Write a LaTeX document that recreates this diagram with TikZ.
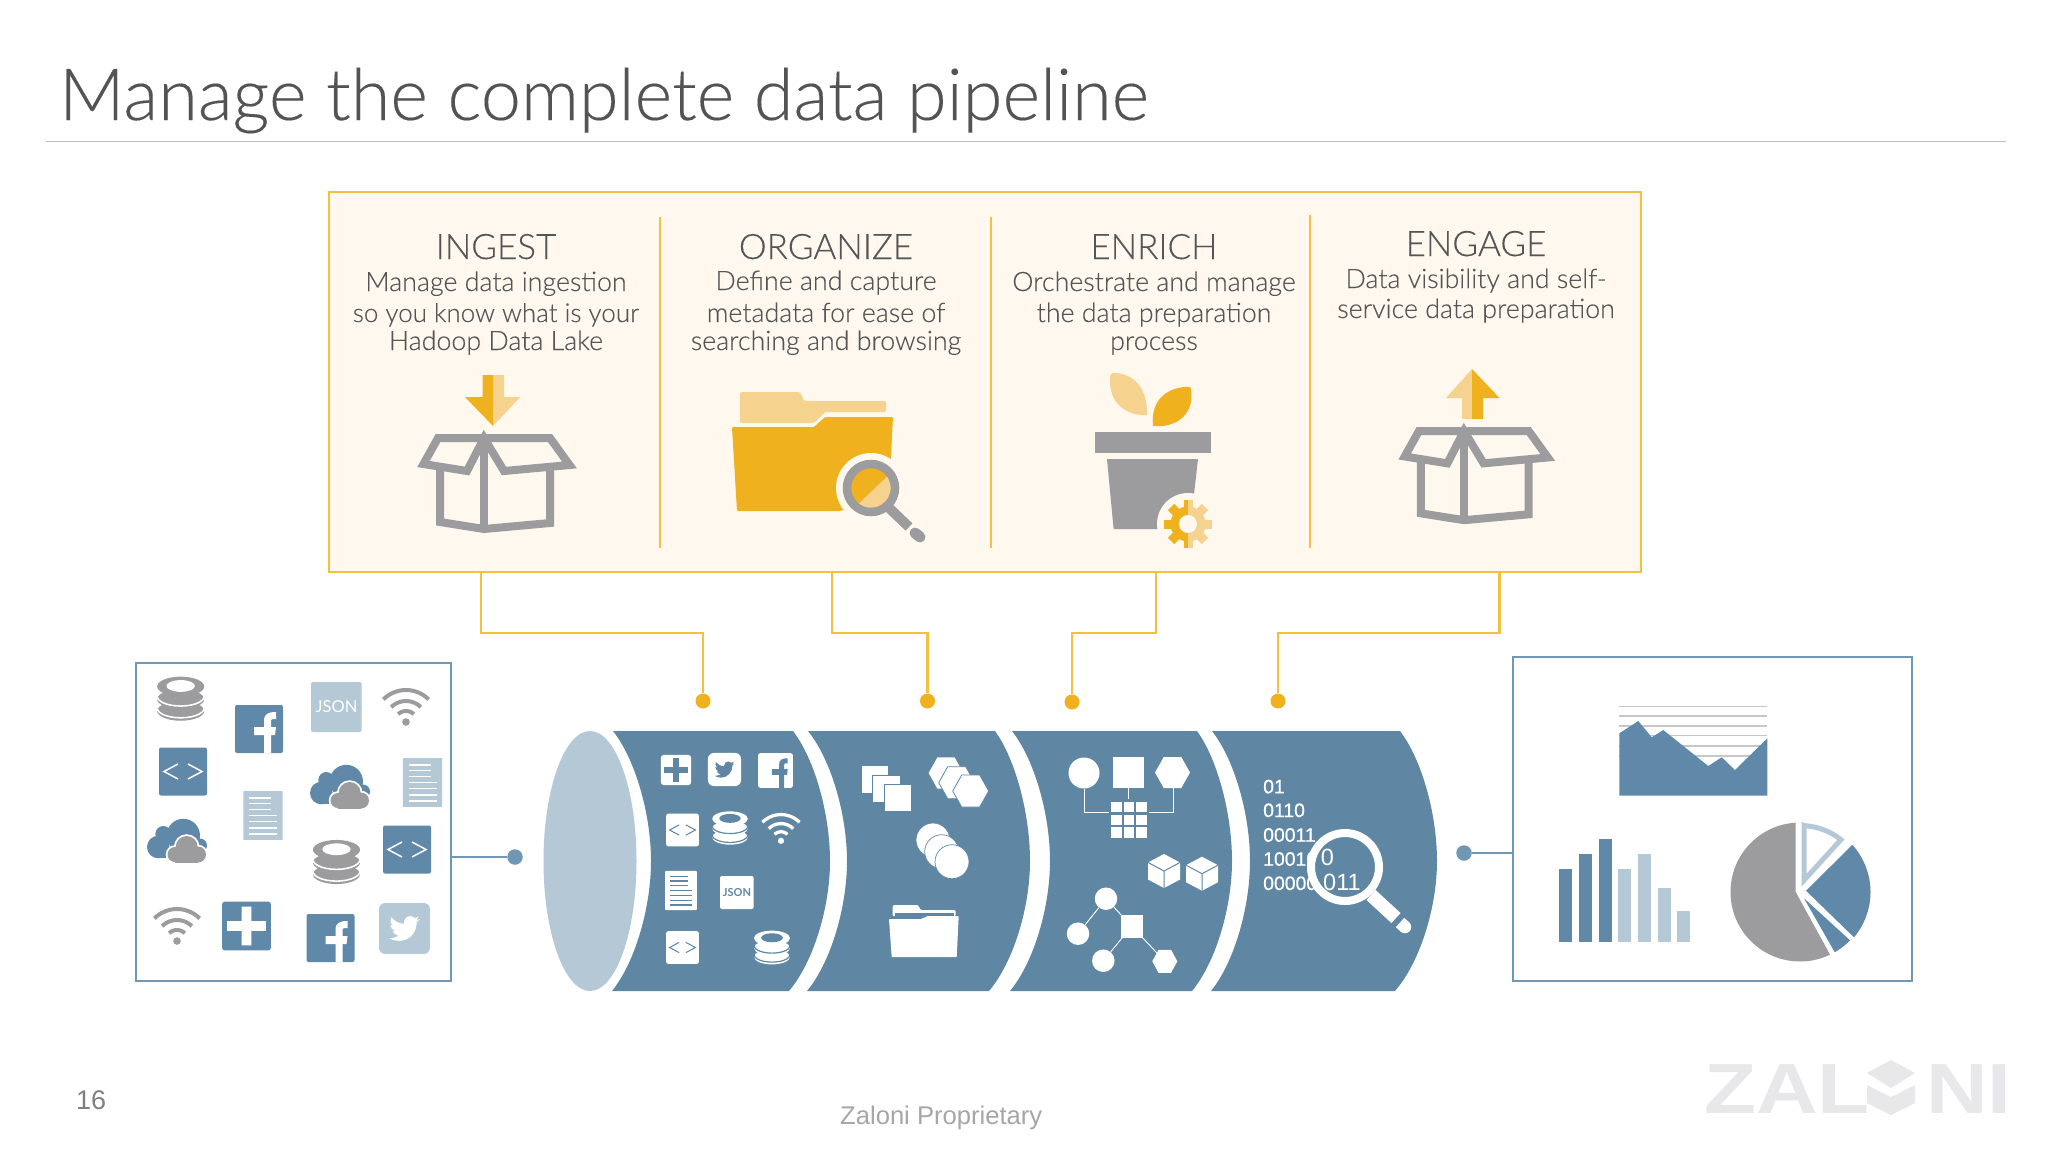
\documentclass[tikz,border=0pt]{standalone}
\usepackage{fontspec}
\setmainfont{Lato}
\newfontfamily\lt[FakeBold=0.2]{Lato Light}
\newfontfamily\lr{Lato}
\newfontfamily\lib{Liberation Sans}
\newfontfamily\libm[FakeBold=0.6]{Liberation Sans}
\newfontfamily\zal[FakeStretch=1.2]{Liberation Sans}
\definecolor{pipe}{HTML}{5F87A3}
\definecolor{bluei}{HTML}{6088A8}
\definecolor{lightb}{HTML}{B4C8D6}
\definecolor{boxc}{HTML}{7098B5}
\definecolor{gr}{HTML}{9C9C9E}
\definecolor{yd}{HTML}{EFB11D}
\definecolor{yl}{HTML}{F5D28D}
\definecolor{yline}{HTML}{F3C13F}
\definecolor{pan}{HTML}{FEF8EE}
\definecolor{txt}{HTML}{555557}
\definecolor{titlec}{HTML}{535356}
\tikzset{
 lab/.style={anchor=base,inner sep=0pt,text=txt,font=\lt\fontsize{26.8}{27}\selectfont},
 labn/.style={anchor=base,inner sep=0pt,text=txt,font=\lt\fontsize{26}{27}\selectfont},
 head/.style={anchor=base,inner sep=0pt,text=txt,font=\lt\fontsize{35}{35}\selectfont},
 ydot/.style={circle,fill=yd,inner sep=0pt,minimum size=15pt},
 bdot/.style={circle,fill=boxc,inner sep=0pt,minimum size=15.5pt},
 yconn/.style={draw=yline,line width=2.2pt},
 bconn/.style={draw=boxc,line width=2.2pt},
 bin/.style={anchor=base west,inner sep=0pt,text=white,font=\libm\fontsize{19.4}{19.4}\selectfont},
 bigbin/.style={anchor=base west,inner sep=0pt,text=white,font=\lib\fontsize{23.5}{23.5}\selectfont},
 boxl/.style={draw=gr,line width=8pt,miter limit=4,fill=none},
}
\newcommand\pipeseg[6]{\fill[pipe] (#1,731) .. controls ({#1+.6*(#2-#1)},760) and (#2,815) .. (#2,861) .. controls (#2,907) and ({#3+.6*(#2-#3)},962) .. (#3,991) -- (#6,991) .. controls ({#6+.6*(#5-#6)},962) and (#5,907) .. (#5,861) .. controls (#5,815) and ({#4+.6*(#5-#4)},760) .. (#4,731) -- cycle;}
\newcommand\boxicon[3]{\begin{scope}[shift={(#1,#2)},scale=#3]
 \draw[boxl] (-44,26)--(-44,84)--(0,91)--(66,85)--(66,26);
 \draw[boxl] (0,0)--(0,91);
 \draw[boxl] (-46,0)--(-60.5,26)--(-17,33)--(0,0)--(20,33)--(85.5,27)--(66,0)--cycle;
\end{scope}}
\newcommand\fbicon[5]{\begin{scope}[shift={(#1,#2)},scale=#3]
 \fill[#4,rounded corners=2pt] (-24,-24) rectangle (24,24);
 \fill[#5] (5,24)--(5,6)--(-5,6)--(-5,-2)--(5,-2)--(5,-8) .. controls (5,-15) and (9,-17) .. (17,-17)--(17,-10)--(14,-10) .. controls (12,-10) and (12,-9) .. (12,-7)--(12,-2)--(17,-2)--(16,6)--(12,6)--(12,24)--cycle;
\end{scope}}
\newcommand\codeicon[5]{\begin{scope}[shift={(#1,#2)},scale=#3]
 \fill[#4,rounded corners=2pt] (-24,-24) rectangle (24,24);
 \draw[#5,line width={1.5pt*#3}] (-5,-7.5)--(-19,0)--(-5,7.5) (5,-7.5)--(19,0)--(5,7.5);
\end{scope}}
\newcommand\plusicon[5]{\begin{scope}[shift={(#1,#2)},scale=#3]
 \fill[#4,rounded corners=3pt] (-24,-24) rectangle (24,24);
 \fill[#5] (-4.7,-19) rectangle (4.7,19) (-19,-4.7) rectangle (19,4.7);
\end{scope}}
\newcommand\dbicon[5]{\begin{scope}[shift={(#1,#2)},scale=#3]
 \foreach \yy in {12.5,0.5} {\fill[#4] (0,\yy) ellipse [x radius=24,y radius=10];
   \draw[#5,line width={1.6pt*#3}] plot[domain=180:360,samples=15] ({24*cos(\x)},{\yy-3+10*sin(-\x)});}
 \fill[#4] (0,-12.5) ellipse [x radius=24,y radius=10];
 \fill[#5] (0,-13) ellipse [x radius=14.5,y radius=6];
\end{scope}}
\newcommand\wifiicon[4]{\begin{scope}[shift={(#1,#2)},scale=#3]
 \fill[#4] (0,15) circle [radius=3.8];
 \foreach \rr in {32,21,11} {\draw[#4,line width={4pt*#3}] plot[domain=-135:-45,samples=15] ({\rr*cos(\x)},{15+\rr*sin(\x)});}
\end{scope}}
\newcommand\docicon[5]{\begin{scope}[shift={(#1,#2)},scale=#3]
 \fill[#4,rounded corners=.6pt] (-19.7,-24.4) rectangle (19.7,24.4);
 \draw[#5,line width={1.7pt*#3}] (-13.7,-17.7)--(8.3,-17.7) (-13.7,-12)--(8.3,-12) (-13.7,-6)--(8.3,-6) (-13.7,0)--(14.3,0) (-13.7,6)--(14.3,6) (-13.7,12.3)--(14.3,12.3) (-13.7,18.3)--(14.3,18.3);
\end{scope}}
\newcommand\cloudicon[2]{\begin{scope}[shift={(#1,#2)}]
 \fill[bluei] (6.3,-5.5) circle [radius=16.7];
 \fill[bluei] (-13.7,-7) circle [radius=8];
 \fill[bluei] (-18.7,6) circle [radius=11.3];
 \fill[bluei] (23,4.5) circle [radius=7];
 \fill[bluei] (-18.7,7) rectangle (23,17.3);
 \foreach \px/\py/\pr in {9.7/6/11,-2/13.5/7.5,21/13.5/8} {\filldraw[white,line width=3.5pt] (\px,\py) circle [radius=\pr];}
 \filldraw[white,line width=3.5pt] (-2,10) rectangle (21,21.5);
 \foreach \px/\py/\pr in {9.7/6/11,-2/13.5/7.5,21/13.5/8} {\fill[gr] (\px,\py) circle [radius=\pr];}
 \fill[gr] (-2,10) rectangle (21,21.5);
\end{scope}}
\newcommand\birdicon[5]{\begin{scope}[shift={(#1,#2)},scale=#3]
 \fill[#4,rounded corners=6pt] (-24,-24) rectangle (24,24);
 \begin{scope}[shift={(-14.4,-14.4)},scale=1.2]
 \fill[#5] (23.954,4.569) .. controls (23.069,4.958) and (22.124,5.223) .. (21.129,5.344) .. controls (22.143,4.733) and (22.923,3.77) .. (23.292,2.621) .. controls (22.341,3.176) and (21.287,3.58) .. (20.165,3.805) .. controls (19.269,2.846) and (17.992,2.246) .. (16.574,2.246) .. controls (13.857,2.246) and (11.654,4.449) .. (11.654,7.163) .. controls (11.654,7.553) and (11.699,7.928) .. (11.781,8.287) .. controls (7.691,8.094) and (4.066,6.13) .. (1.64,3.161) .. controls (1.213,3.883) and (.974,4.722) .. (.974,5.636) .. controls (.974,7.346) and (1.844,8.849) .. (3.162,9.732) .. controls (2.355,9.706) and (1.596,9.484) .. (.934,9.116) -- (.934,9.177) .. controls (.934,11.562) and (2.627,13.551) .. (4.88,14.004) .. controls (4.467,14.115) and (4.031,14.175) .. (3.584,14.175) .. controls (3.27,14.175) and (2.969,14.145) .. (2.668,14.089) .. controls (3.299,16.042) and (5.113,17.466) .. (7.272,17.506) .. controls (5.592,18.825) and (3.463,19.611) .. (1.17,19.611) .. controls (.78,19.611) and (.391,19.588) .. (0,19.544) .. controls (2.189,20.938) and (4.768,21.753) .. (7.557,21.753) .. controls (16.611,21.753) and (21.556,14.257) .. (21.556,7.767) .. controls (21.556,7.558) and (21.556,7.347) .. (21.541,7.137) .. controls (22.502,6.448) and (23.341,5.577) .. (24.001,4.589) -- cycle;
 \end{scope}
\end{scope}}
\newcommand\hexa[5][white]{\fill[#1] ({#2-#4/2},#3)--({#2-#4/4},{#3-#5/2})--({#2+#4/4},{#3-#5/2})--({#2+#4/2},#3)--({#2+#4/4},{#3+#5/2})--({#2-#4/4},{#3+#5/2})--cycle;}
\newcommand\hexb[4]{\filldraw[fill=white,draw=pipe,line width=.8pt] ({#1-#3/2},#2)--({#1-#3/4},{#2-#4/2})--({#1+#3/4},{#2-#4/2})--({#1+#3/2},#2)--({#1+#3/4},{#2+#4/2})--({#1-#3/4},{#2+#4/2})--cycle;}
\newcommand\cube[2]{\begin{scope}[shift={(#1,#2)}]
 \fill[white] (0,-17)--(16,-8.5)--(16,8.5)--(0,17)--(-16,8.5)--(-16,-8.5)--cycle;
 \draw[pipe,line width=1pt] (-16,-8.5)--(0,0)--(16,-8.5) (0,0)--(0,17);
\end{scope}}
\newcommand\gearshape[1]{\fill[#1] (0,0) circle [radius=17.5];
 \foreach \a in {0,45,...,315} {\fill[#1,rotate=\a] (-4.5,-24) rectangle (4.5,0);}}
\begin{document}
\begin{tikzpicture}[x=1pt,y=-1pt]
\useasboundingbox (0,0) rectangle (2048,1152);
\fill[white] (0,0) rectangle (2048,1152);
% title
\node[anchor=base west,inner sep=0pt,text=titlec,font=\lt\fontsize{72}{72}\selectfont] (title) at (59,120) {Manage the complete data pipeline};
\coordinate (ruleL) at (46,141.5);
\coordinate (ruleR) at (2006,141.5);
\draw[draw=black!25,line width=1.6pt] (ruleL)--(ruleR);
% panel
\node[draw=yline,fill=pan,line width=2.6pt,minimum width=1312pt,minimum height=380pt,inner sep=0pt] (panel) at (985,382) {};
\foreach \xx/\ya in {660/217,991/217,1310/215} {\draw[yline,line width=1.5pt] (\xx,\ya)--(\xx,548);}
% headers
\node[head] (h1) at (496,259) {INGEST};
\node[lab] (h1a) at (496,291) {Manage data ingestion};
\node[labn] (h1b) at (496,322) {so you know what is your};
\node[lab] (h1c) at (496,350) {Hadoop Data Lake};
\node[head] (h2) at (826,259) {ORGANIZE};
\node[lab] (h2a) at (826,290) {Define and capture};
\node[lab] (h2b) at (826,322) {metadata for ease of};
\node[lab] (h2c) at (826,350) {searching and browsing};
\node[head] (h3) at (1154,259) {ENRICH};
\node[lab] (h3a) at (1154,291) {Orchestrate and manage};
\node[lab] (h3b) at (1154,322) {the data preparation};
\node[lab] (h3c) at (1154,350) {process};
\node[head] (h4) at (1476,256) {ENGAGE};
\node[lab] (h4a) at (1476,288) {Data visibility and self-};
\node[lab] (h4b) at (1476,318) {service data preparation};
% ingest arrow + box
\fill[yd] (482.6,375)--(493,375)--(493,426)--(465,397)--(482.6,397)--cycle;
\fill[yl] (504,375)--(493,375)--(493,426)--(520.3,397)--(504,397)--cycle;
\boxicon{484}{438}{1}
% folder
\fill[yl,rounded corners=1.5pt] (740,423)--(740,392)--(800,392)--(804,401)--(886,401)--(886,412)--(825,412)--(814,423)--cycle;
\fill[yd,rounded corners=1pt] (732,427)--(814,427)--(825,417)--(893,417)--(889,495)--(840,511)--(737,511)--cycle;
\fill[pan] (871,488) circle [radius=35];
\begin{scope}
 \clip (871,488) circle [radius=21];
 \fill[yd] (845,460) rectangle (899,516);
 \fill[yl] (896,468)--(848,514)--(900,520)--cycle;
\end{scope}
\draw[gr,line width=8.5pt] (871,488) circle [radius=24];
\draw[gr,line width=10pt] (887,506)--(909,527);
\draw[gr,line width=11pt,line cap=round] (915,533)--(920,537);
% plant
\fill[yl] (1112,373) .. controls (1130,372) and (1148,385) .. (1147,415) .. controls (1128,416) and (1108,405) .. (1110,376) -- cycle;
\fill[yd] (1190,387) .. controls (1170,386) and (1150,398) .. (1153,426) .. controls (1172,428) and (1195,418) .. (1191,389) -- cycle;
\fill[gr] (1095,432) rectangle (1211,453);
\fill[gr] (1107,459)--(1198,459)--(1192,512)--(1188,529)--(1113.6,529)--cycle;
\fill[pan] (1188,524) circle [radius=31];
\begin{scope}[shift={(1188,524)}]
 \begin{scope}\clip (-30,-30) rectangle (0,30); \gearshape{yd}\end{scope}
 \begin{scope}\clip (0,-30) rectangle (30,30); \gearshape{yl}\end{scope}
 \fill[pan] (0,0) circle [radius=9];
\end{scope}
% engage arrow + box
\fill[yl] (1472,369)--(1446,398)--(1462,398)--(1462,419)--(1472,419)--cycle;
\fill[yd] (1472,369)--(1499.5,398)--(1483,398)--(1483,419)--(1472,419)--cycle;
\boxicon{1464}{431}{.98}
% yellow connectors
\coordinate (yy) at (0,633);
\coordinate (c1) at (481,572);
\coordinate (c2) at (832,572);
\coordinate (c3) at (1156,572);
\coordinate (c4) at (1499.5,572);
\node[ydot] (d1) at (703,701) {};
\node[ydot] (d2) at (927.5,701) {};
\node[ydot] (d3) at (1072,702) {};
\node[ydot] (d4) at (1278,701) {};
\draw[yconn] (c1) |- (d1 |- yy) -- (d1);
\draw[yconn] (c2) |- (d2 |- yy) -- (d2);
\draw[yconn] (c3) |- (d3 |- yy) -- (d3);
\draw[yconn] (c4) |- (d4 |- yy) -- (d4);
% source box
\node[draw=boxc,fill=white,line width=2.4pt,minimum width=315pt,minimum height=318pt,inner sep=0pt] (src) at (293.5,822) {};
\node[bdot] (d5) at (515,857) {};
\draw[bconn] (src.east |- d5) -- (d5);
\dbicon{180.7}{698.7}{.98}{gr}{white}
\fbicon{259}{729}{1}{bluei}{white}
\begin{scope}
 \fill[lightb,rounded corners=2pt] (311,682) rectangle (361.7,732);
 \node[inner sep=0pt,text=white,font=\lr\fontsize{16.5}{16.5}\selectfont] (js1) at (336.5,707) {JSON};
\end{scope}
\wifiicon{406}{707}{1}{gr}
\codeicon{183}{771.5}{1}{bluei}{white}
\cloudicon{340}{787}
\docicon{422.5}{782.5}{1}{lightb}{white}
\docicon{263}{815.5}{1}{lightb}{white}
\cloudicon{177}{841}
\dbicon{336.5}{862}{.98}{gr}{white}
\codeicon{407}{849.5}{1}{bluei}{white}
\wifiicon{177}{926}{1}{gr}
\plusicon{246.5}{926}{1.02}{bluei}{white}
\fbicon{330.5}{938}{1}{bluei}{white}
\birdicon{404.5}{928.5}{1.06}{lightb}{white}
% pipeline
\fill[lightb] (590,861) ellipse [x radius=46.5,y radius=130];
\pipeseg{613}{651}{612}{793}{830}{789}
\pipeseg{808}{847}{807}{995}{1030}{989}
\pipeseg{1012}{1050}{1010}{1197}{1232}{1192}
\pipeseg{1212}{1250}{1211}{1400}{1437}{1395}
% seg 1
\plusicon{676}{770}{.63}{white}{pipe}
\birdicon{724.5}{769.5}{.69}{white}{pipe}
\fbicon{775.5}{770.5}{.72}{white}{pipe}
\codeicon{682.5}{830}{.68}{white}{pipe}
\dbicon{730}{828}{.74}{white}{pipe}
\wifiicon{781}{828.5}{.82}{white}
\docicon{681}{890.5}{.8}{white}{pipe}
\fill[white,rounded corners=2pt] (720,876) rectangle (753.7,909);
\node[inner sep=0pt,text=pipe,font=\lr\bfseries\fontsize{11}{11}\selectfont] (js2) at (737,892.5) {JSON};
\codeicon{682.5}{947.5}{.68}{white}{pipe}
\dbicon{772}{947.5}{.75}{white}{pipe}
% seg 2
\foreach \xa/\ya in {861/765.7,872.7/775,884/784} {\filldraw[fill=white,draw=pipe,line width=.7pt] (\xa,\ya) rectangle ++(27.3,27.5);}
\hexb{946}{773}{36}{32}
\hexb{956.7}{782.7}{36}{32}
\hexb{970.7}{791}{36}{32}
\foreach \xa/\ya in {933/840,941.7/851.7,952/861.7} {\filldraw[fill=white,draw=pipe,line width=.7pt] (\xa,\ya) circle [radius=17];}
\fill[white,rounded corners=1pt] (892.7,916)--(892.7,906)--(894,905)--(918,905)--(920.7,910)--(955.5,910)--(955.5,916)--cycle;
\fill[pipe] (895,912.5) rectangle (953.5,918);
\fill[white,rounded corners=.5pt] (889,919)--(921,919)--(928,916)--(958.7,916)--(956.7,957)--(891.7,957)--cycle;
% seg 3
\node[circle,fill=white,inner sep=0pt,minimum size=31pt] (n1) at (1084,773) {};
\node[fill=white,inner sep=0pt,minimum width=31.5pt,minimum height=31pt] (n2) at (1128.3,772.5) {};
\hexa{1172.5}{772.5}{35}{31}
\coordinate (n3) at (1173.7,788);
\foreach \i in {0,1,2} \foreach \j in {0,1,2} {\fill[white] ({1111+\i*12.6},{802+\j*12.6}) rectangle ++(10.6,10.4);}
\coordinate (g1) at (1109,812);
\coordinate (g2) at (1128.3,799);
\coordinate (g3) at (1149,812);
\draw[white,line width=.9pt] (n1.south) |- (g1);
\draw[white,line width=.9pt] (n2.south) -- (g2);
\draw[white,line width=.9pt] (n3) |- (g3);
\cube{1164}{871}
\cube{1202}{873.7}
\node[circle,fill=white,inner sep=0pt,minimum size=22.5pt] (t1) at (1106,898.7) {};
\node[circle,fill=white,inner sep=0pt,minimum size=22.5pt] (t2) at (1078,933.7) {};
\node[fill=white,inner sep=0pt,minimum size=22.5pt] (t3) at (1131.8,926.3) {};
\node[circle,fill=white,inner sep=0pt,minimum size=22.5pt] (t4) at (1103.3,960.7) {};
\coordinate (t5) at (1164.8,961.3);
\hexa{1164.8}{961.3}{25}{23}
\draw[white,line width=.9pt] (t1)--(t2) (t1)--(t3) (t3)--(t4) (t3)--(t5);
% seg 4
\node[bin] (b1) at (1263,793.3) {01};
\node[bin] (b2) at (1263,817) {0110};
\node[bin] (b3) at (1263,841.7) {00011};
\node[bin] (b4) at (1263,865.7) {10010};
\node[bin] (b5) at (1263,890) {00000};
\filldraw[fill=pipe,draw=white,line width=8pt] (1345,867) circle [radius=34];
\node[bigbin] (b6) at (1320.7,865.7) {0};
\node[bigbin] (b7) at (1323,890) {011};
\draw[white,line width=13.5pt] (1371,895)--(1396,918);
\draw[white,line width=12.5pt] (1400,922.5)--(1405,927);
\fill[white] (1405,927) circle [radius=6.25];
% dest box
\node[draw=boxc,fill=white,line width=2.4pt,minimum width=399pt,minimum height=324pt,inner sep=0pt] (dst) at (1712.5,819) {};
\node[bdot] (d6) at (1464,853) {};
\draw[bconn] (d6) -- (dst.west |- d6);
\foreach \ya in {706.7,716,726,735.3,746,756} {\draw[black!22,line width=1.4pt] (1619.3,\ya)--(1767.3,\ya);}
\fill[bluei] (1619.3,733.3)--(1638.3,721)--(1651.7,737.3)--(1663.3,730)--(1708.3,766)--(1721.7,757.3)--(1735,770)--(1767.3,738.3)--(1767.3,795.7)--(1619.3,795.7)--cycle;
\foreach \xa/\ya/\cc in {1559.3/869/bluei,1579/854/bluei,1598.7/839/bluei,1618.3/869/lightb,1638/854/lightb,1658/887.7/lightb,1677.3/910.7/lightb} {\fill[\cc] (\xa,\ya) rectangle ++(13,{941.7-\ya});}
\fill[gr] (1795.7,822.5)--(1795.7,892)--(1829.3,953.3)--plot[domain=64.5:266.5,samples=60] ({1800+69.5*cos(\x)},{892+69.5*sin(\x)})--cycle;
\draw[draw=lightb,line width=5pt] (1804.2,880)--(1804.2,825.5)--plot[domain=-86:-52,samples=12] ({1800+66.5*cos(\x)},{892+66.5*sin(\x)})--cycle;
\fill[bluei] (1806,890.7)--plot[domain=-42:40,samples=30] ({1800+70.5*cos(\x)},{892+70.5*sin(\x)})--cycle;
\fill[bluei] (1804,898.3)--plot[domain=44:60,samples=8] ({1800+69.5*cos(\x)},{892+69.5*sin(\x)})--cycle;
% footer
\node[anchor=base west,inner sep=0pt,text=black!50,font=\lib\fontsize{27}{27}\selectfont] (pg) at (76,1109) {16};
\node[anchor=base west,inner sep=0pt,text=black!35,font=\lib\fontsize{25.6}{25.6}\selectfont] (prop) at (840,1124) {Zaloni Proprietary};
\definecolor{logo}{HTML}{E8E8EA}
\node[anchor=base west,inner sep=0pt,text=logo,font=\zal\bfseries\fontsize{71}{71}\selectfont] (z1) at (1704,1113) {ZAL};
\node[anchor=base west,inner sep=0pt,text=logo,font=\zal\bfseries\fontsize{71}{71}\selectfont] (z2) at (1926,1113) {NI};
\fill[logo] (1891,1060)--(1915,1073)--(1891,1088)--(1867,1073)--cycle;
\fill[logo] (1867,1085)--(1891,1097)--(1915,1085)--(1915,1103)--(1891,1115)--(1867,1103)--cycle;
\end{tikzpicture}
\end{document}
